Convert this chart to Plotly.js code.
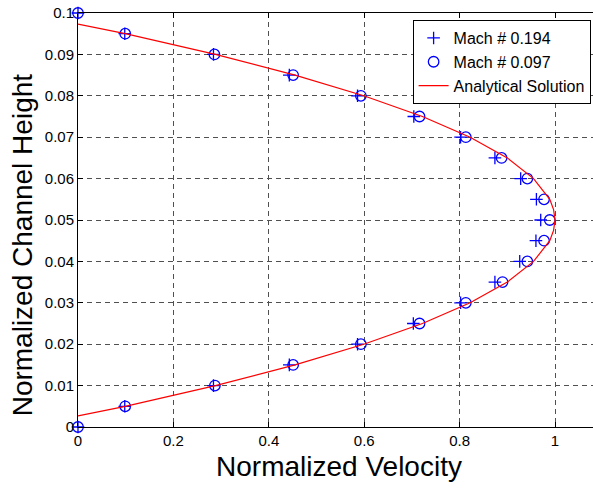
<!DOCTYPE html>
<html>
<head>
<meta charset="utf-8">
<script src="https://cdn.plot.ly/plotly-3.0.1.min.js"></script>
<style>
html,body{margin:0;padding:0;overflow:hidden;background:#fff;}
#plot{width:600px;height:489px;}
</style>
</head>
<body>
<div id="plot"></div>
<script>
// Channel height positions for the simulated data
var heights = [0, 0.005, 0.01, 0.015, 0.02, 0.025, 0.03, 0.035, 0.04, 0.045, 0.05,
               0.055, 0.06, 0.065, 0.07, 0.075, 0.08, 0.085, 0.09, 0.095, 0.1];
// Mach # 0.194 (plus markers)
var velMach194 = [0, 0.098, 0.284, 0.443, 0.586, 0.703, 0.802, 0.874, 0.926, 0.960, 0.970,
                  0.961, 0.928, 0.874, 0.802, 0.704, 0.586, 0.443, 0.284, 0.098, 0];
// Mach # 0.097 (circle markers)
var velMach097 = [0, 0.099, 0.287, 0.451, 0.593, 0.716, 0.813, 0.890, 0.942, 0.977, 0.989,
                  0.977, 0.942, 0.888, 0.813, 0.716, 0.593, 0.451, 0.286, 0.099, 0];
// Analytical solution
var heightsAnalytic = [0.0027, 0.005, 0.01, 0.015, 0.02, 0.025, 0.03, 0.035, 0.04, 0.045, 0.0475,
                       0.05, 0.0525, 0.055, 0.06, 0.065, 0.07, 0.075, 0.08, 0.085, 0.09, 0.095, 0.0973];
var velAnalytic = [0, 0.099, 0.288, 0.455, 0.599, 0.722, 0.822, 0.900, 0.955, 0.989, 0.997,
                   1.0, 0.997, 0.989, 0.955, 0.900, 0.822, 0.722, 0.599, 0.455, 0.288, 0.099, 0];

var xTickVals = [0, 0.2, 0.4, 0.6, 0.8, 1];
var xTickText = ['0', '0.2', '0.4', '0.6', '0.8', '1'];
var yTickVals = [0, 0.01, 0.02, 0.03, 0.04, 0.05, 0.06, 0.07, 0.08, 0.09, 0.1];
var yTickText = ['0', '0.01', '0.02', '0.03', '0.04', '0.05', '0.06', '0.07', '0.08', '0.09', '0.1'];

var xTitle = 'Normalized Velocity';
var yTitle = 'Normalized Channel Height';

var font = 'Liberation Sans, Arial, Helvetica, sans-serif';

var traces = [
  {x: velMach194, y: heights, mode: 'markers', type: 'scatter', name: 'Mach # 0.194',
   cliponaxis: false,
   marker: {symbol: 'cross-thin-open', size: 9, color: '#0000ff', line: {color: '#0000ff', width: 1.3}}},
  {x: velMach097, y: heights, mode: 'markers', type: 'scatter', name: 'Mach # 0.097',
   cliponaxis: false,
   marker: {symbol: 'circle-open', size: 10.5, color: '#0000ff', line: {color: '#0000ff', width: 1.3}}},
  {x: velAnalytic, y: heightsAnalytic, mode: 'lines', type: 'scatter', name: 'Analytical Solution',
   line: {color: '#ff0000', width: 1.2}}
];

var layout = {
  width: 600, height: 489,
  margin: {l: 78, r: 0, t: 13, b: 62},
  paper_bgcolor: '#fff', plot_bgcolor: '#fff',
  font: {family: font, size: 15, color: '#000'},
  showlegend: true,
  legend: {x: 0.982, y: 0.983, xanchor: 'right', yanchor: 'top',
           bgcolor: '#fff', bordercolor: '#000', borderwidth: 1,
           font: {family: font, size: 16, color: '#000'}, tracegroupgap: 0},
  xaxis: {
    range: [0, 1.0943], autorange: false,
    tickvals: xTickVals, ticktext: xTickText,
    ticks: 'inside', ticklen: 5, tickcolor: '#000',
    showline: true, linecolor: '#000', linewidth: 1, mirror: 'ticks',
    showgrid: true, gridcolor: '#505050', griddash: '5px,4px', gridwidth: 1,
    zeroline: false,
    tickfont: {family: font, size: 15, color: '#000'},
    title: {text: xTitle, font: {family: font, size: 28, color: '#000'}, standoff: 8}
  },
  yaxis: {
    range: [0, 0.1], autorange: false,
    tickvals: yTickVals, ticktext: yTickText,
    ticks: 'inside', ticklen: 5, tickcolor: '#000',
    showline: true, linecolor: '#000', linewidth: 1, mirror: 'ticks',
    showgrid: true, gridcolor: '#505050', griddash: '5px,4px', gridwidth: 1,
    zeroline: false,
    tickfont: {family: font, size: 15, color: '#000'}
  },
  annotations: [
    {text: yTitle, xref: 'paper', yref: 'paper', x: -0.0728, y: 0.44,
     xanchor: 'right', yanchor: 'middle', textangle: -90, showarrow: false,
     font: {family: font, size: 28, color: '#000'}}
  ]
};

Plotly.newPlot('plot', traces, layout, {displayModeBar: false, staticPlot: true});
</script>
</body>
</html>
